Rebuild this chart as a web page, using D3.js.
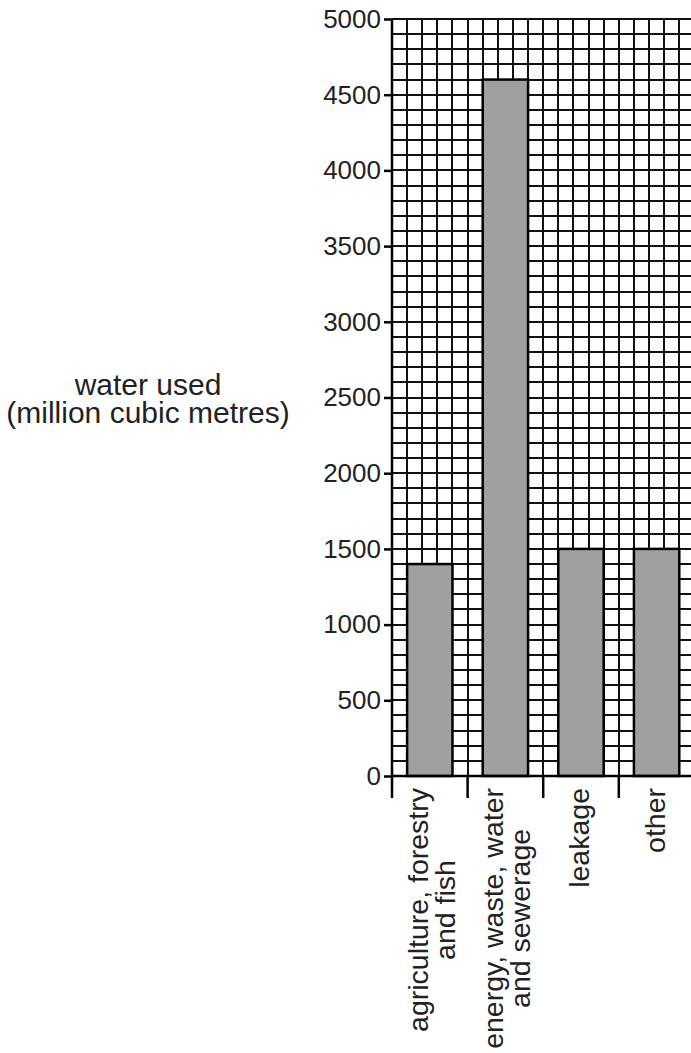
<!DOCTYPE html>
<html>
<head>
<meta charset="utf-8">
<script src="https://cdn.jsdelivr.net/npm/d3@7"></script>
<style>
  html, body { margin: 0; padding: 0; background: #fff; }
  svg { display: block; font-family: "Liberation Sans", Arial, Helvetica, sans-serif; }
  .grid line { stroke: #111; stroke-width: 1.2; shape-rendering: crispEdges; }
  .bar { fill: #a0a0a0; stroke: #000; stroke-width: 2.5; }
  .axis-line { stroke: #000; stroke-width: 2.5; }
</style>
</head>
<body>
<div id="chart"></div>
<script>
// data
var categories = [
    ["agriculture, forestry", "and fish"],
    ["energy, waste, water", "and sewerage"],
    ["leakage"],
    ["other"]
];
var waterUsed = [1400, 4600, 1500, 1500];
var yTicks = [0, 500, 1000, 1500, 2000, 2500, 3000, 3500, 4000, 4500, 5000];
var titleLines = ["water used", "(million cubic metres)"];

var width = 691, height = 1053;
var left = 392, zeroY = 776, topY = 19;
var cell = 15.12;             // one grid square
var cellsPerSlot = 5;

var svg = d3.select("#chart").append("svg")
    .attr("width", width)
    .attr("height", height);

var keys = categories.map(function(c, i) { return "c" + i; });

var x = d3.scaleBand()
    .domain(keys)
    .range([left, left + keys.length * cellsPerSlot * cell])
    .paddingInner(0.4)
    .paddingOuter(0.2);

var y = d3.scaleLinear().domain([0, 5000]).range([zeroY, topY]);

// grid squares: one every 100 up, one every cell across
var gx = d3.scaleLinear().domain([0, keys.length * cellsPerSlot]).range(x.range());
var grid = svg.append("g").attr("class", "grid");

grid.selectAll(".h")
    .data(d3.range(0, 5001, 100))
    .enter().append("line")
    .attr("x1", left).attr("x2", gx(20))
    .attr("y1", function(d) { return Math.round(y(d)); })
    .attr("y2", function(d) { return Math.round(y(d)); });

grid.selectAll(".v")
    .data(d3.range(1, 20))
    .enter().append("line")
    .attr("x1", function(d) { return Math.round(gx(d)); })
    .attr("x2", function(d) { return Math.round(gx(d)); })
    .attr("y1", topY).attr("y2", zeroY);

// bars
svg.selectAll(".bar")
    .data(waterUsed)
    .enter().append("rect")
    .attr("class", "bar")
    .attr("x", function(d, i) { return x(keys[i]); })
    .attr("width", x.bandwidth())
    .attr("y", function(d) { return y(d); })
    .attr("height", function(d) { return y(0) - y(d); });

// y axis
var yAxis = d3.axisLeft(y)
    .tickValues(yTicks)
    .tickSize(8)
    .tickPadding(3)
    .tickFormat(d3.format("d"));

var ya = svg.append("g")
    .attr("transform", "translate(" + left + ",0)")
    .call(yAxis);
ya.select(".domain").remove();
ya.selectAll(".tick line").attr("stroke", "#000").attr("stroke-width", 2.5);
ya.selectAll(".tick text")
    .attr("fill", "#222")
    .style("font-size", "26px")
    .style("font-family", "'Liberation Sans', Arial, sans-serif");

svg.append("line").attr("class", "axis-line")
    .attr("x1", left).attr("x2", left)
    .attr("y1", topY).attr("y2", zeroY + 22);

// x axis: ticks between categories
var xa = svg.append("g");
xa.append("line").attr("class", "axis-line")
    .attr("x1", left).attr("x2", width)
    .attr("y1", zeroY).attr("y2", zeroY);

var step = x.step();
xa.selectAll(".xt")
    .data(keys.slice(1))
    .enter().append("line")
    .attr("class", "axis-line")
    .attr("x1", function(k) { return x(k) - x.paddingInner() * step / 2; })
    .attr("x2", function(k) { return x(k) - x.paddingInner() * step / 2; })
    .attr("y1", zeroY).attr("y2", zeroY + 22);

// category labels, rotated
var labelTop = 788;
var lineGap = 27;
categories.forEach(function(lines, i) {
    var cx = x(keys[i]) + x.bandwidth() / 2;
    var n = lines.length;
    var g = svg.append("g");
    var texts = lines.map(function(s, j) {
        return g.append("text")
            .attr("text-anchor", "end")
            .attr("fill", "#222")
            .style("font-size", "28.5px")
            .text(s);
    });
    var lens = texts.map(function(t) { return t.node().getComputedTextLength(); });
    var maxLen = d3.max(lens);
    texts.forEach(function(t, j) {
        var shift = (maxLen - lens[j]) / 2;
        var base = cx + 8 - (n - 1) * 10 + j * lineGap;
        t.attr("transform", "translate(" + base + "," + (labelTop + shift) + ") rotate(-90)");
    });
});

// y axis title
svg.append("text")
    .attr("x", 148)
    .attr("y", 395)
    .attr("text-anchor", "middle")
    .attr("fill", "#222")
    .style("font-size", "30px")
    .selectAll("tspan")
    .data(titleLines)
    .enter().append("tspan")
    .attr("x", 148)
    .attr("dy", function(d, i) { return i ? 28 : 0; })
    .text(function(d) { return d; });
</script>
</body>
</html>
